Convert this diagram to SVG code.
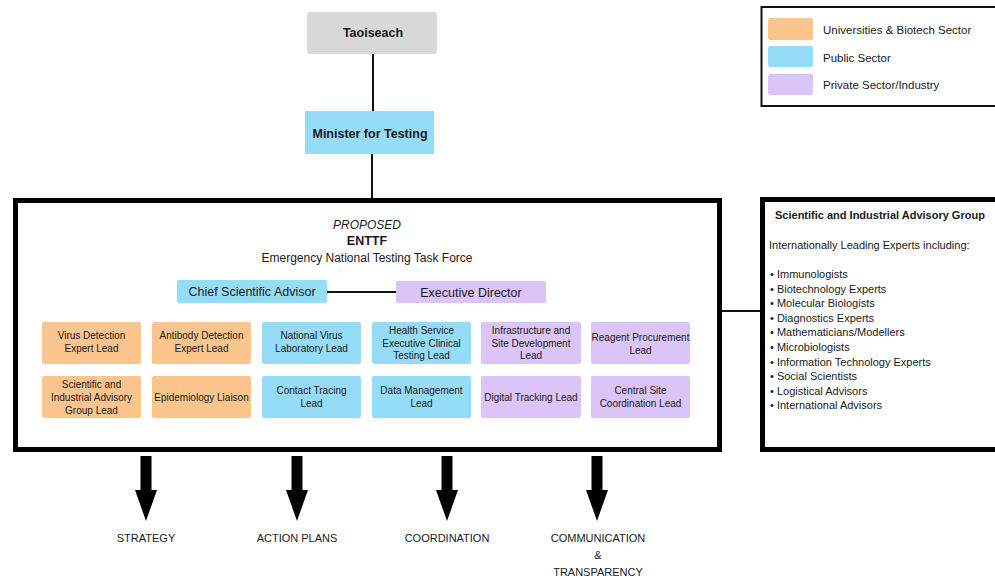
<svg xmlns="http://www.w3.org/2000/svg" width="995" height="578" viewBox="0 0 995 578">
<style>
text{font-family:"Liberation Sans",Arial,sans-serif;fill:#1a1a1a}
.c{text-anchor:middle}
.b{font-weight:bold}
.g{font-size:10px}
.line{stroke:#111;stroke-width:2;fill:none}
.org{fill:#fdc58e}
.pub{fill:#95dcf8}
.pri{fill:#dbc4f7}
.arrow{fill:#000}
.lab{font-size:11px}
</style>
<rect width="995" height="578" fill="#fff"/>
<g id="connectors">
<line class="line" x1="373" y1="54" x2="373" y2="111"/>
<line class="line" x1="372" y1="154" x2="372" y2="199"/>
<line class="line" x1="327" y1="292" x2="396" y2="292"/>
<line class="line" x1="720" y1="311" x2="761" y2="311"/>
<polygon class="arrow" points="140.5,456 151.5,456 151.5,490 157,490 146,521 135,490 140.5,490"/>
<polygon class="arrow" points="291.5,456 302.5,456 302.5,490 308,490 297,521 286,490 291.5,490"/>
<polygon class="arrow" points="441.5,456 452.5,456 452.5,490 458,490 447,521 436,490 441.5,490"/>
<polygon class="arrow" points="591.5,456 602.5,456 602.5,490 608,490 597,521 586,490 591.5,490"/>
</g>
<g id="taoiseach">
<rect x="307" y="12" width="130" height="42" rx="2" fill="#d8d8d8"/>
<text class="c b" x="373" y="36.5" font-size="12.5">Taoiseach</text>
</g>
<g id="minister">
<rect x="305" y="111" width="129" height="43" fill="#95dcf8"/>
<text class="c b" x="370" y="137.5" font-size="12.5">Minister for Testing</text>
</g>
<g id="legend">
<rect x="761.5" y="7" width="240" height="99" fill="#fff" stroke="#111" stroke-width="2"/>
<rect class="org" x="768" y="18" width="45" height="22" rx="2"/>
<rect class="pub" x="768" y="46" width="45" height="21" rx="2"/>
<rect class="pri" x="768" y="74" width="45" height="21" rx="2"/>
<text x="823" y="34" font-size="11.5">Universities &amp; Biotech Sector</text>
<text x="823" y="62" font-size="11.5">Public Sector</text>
<text x="823" y="89" font-size="11.5">Private Sector/Industry</text>
</g>
<g id="enttf">
<rect x="15.5" y="200.5" width="704" height="249" fill="none" stroke="#000" stroke-width="5"/>
<text class="c" x="367" y="229" font-size="12" font-style="italic">PROPOSED</text>
<text class="c b" x="367" y="244.5" font-size="12.5">ENTTF</text>
<text class="c" x="367" y="262" font-size="12">Emergency National Testing Task Force</text>
</g>
<g id="chief-scientific-advisor">
<rect class="pub" x="177" y="280" width="150" height="23" rx="2"/>
<text class="c" x="252" y="296" font-size="12.5">Chief Scientific Advisor</text>
</g>
<g id="executive-director">
<rect class="pri" x="396" y="281" width="150" height="22" rx="2"/>
<text class="c" x="471" y="296.5" font-size="12.5">Executive Director</text>
</g>
<g id="virus-detection">
<rect class="org" x="42" y="322" width="99" height="42" rx="2"/>
<text class="c g" x="91.5" y="339">Virus Detection</text>
<text class="c g" x="91.5" y="352">Expert Lead</text>
</g>
<g id="antibody-detection">
<rect class="org" x="152" y="322" width="99" height="42" rx="2"/>
<text class="c g" x="201.5" y="339">Antibody Detection</text>
<text class="c g" x="201.5" y="352">Expert Lead</text>
</g>
<g id="national-virus-lab">
<rect class="pub" x="262" y="322" width="99" height="42" rx="2"/>
<text class="c g" x="311.5" y="339">National Virus</text>
<text class="c g" x="311.5" y="352">Laboratory Lead</text>
</g>
<g id="hse-clinical-testing">
<rect class="pub" x="372" y="322" width="99" height="42" rx="2"/>
<text class="c g" x="421.5" y="333.5">Health Service</text>
<text class="c g" x="421.5" y="346.5">Executive Clinical</text>
<text class="c g" x="421.5" y="359">Testing Lead</text>
</g>
<g id="infrastructure">
<rect class="pri" x="481" y="322" width="100" height="42" rx="2"/>
<text class="c g" x="531" y="333.5">Infrastructure and</text>
<text class="c g" x="531" y="346.5">Site Development</text>
<text class="c g" x="531" y="359">Lead</text>
</g>
<g id="reagent-procurement">
<rect class="pri" x="591" y="322" width="99" height="42" rx="2"/>
<text class="c g" x="640.5" y="340.5">Reagent Procurement</text>
<text class="c g" x="640.5" y="353.5">Lead</text>
</g>
<g id="siag-lead">
<rect class="org" x="42" y="376" width="99" height="42" rx="2"/>
<text class="c g" x="91.5" y="387.5">Scientific and</text>
<text class="c g" x="91.5" y="400.5">Industrial Advisory</text>
<text class="c g" x="91.5" y="413.5">Group Lead</text>
</g>
<g id="epidemiology">
<rect class="org" x="152" y="376" width="99" height="42" rx="2"/>
<text class="c g" x="201.5" y="400.5">Epidemiology Liaison</text>
</g>
<g id="contact-tracing">
<rect class="pub" x="262" y="376" width="99" height="42" rx="2"/>
<text class="c g" x="311.5" y="393.5">Contact Tracing</text>
<text class="c g" x="311.5" y="406.5">Lead</text>
</g>
<g id="data-management">
<rect class="pub" x="372" y="376" width="99" height="42" rx="2"/>
<text class="c g" x="421.5" y="393.5">Data Management</text>
<text class="c g" x="421.5" y="406.5">Lead</text>
</g>
<g id="digital-tracking">
<rect class="pri" x="481" y="376" width="100" height="42" rx="2"/>
<text class="c g" x="531" y="400.5">Digital Tracking Lead</text>
</g>
<g id="central-site">
<rect class="pri" x="591" y="376" width="99" height="42" rx="2"/>
<text class="c g" x="640.5" y="393.5">Central Site</text>
<text class="c g" x="640.5" y="406.5">Coordination Lead</text>
</g>
<g id="advisory-group">
<rect x="762.5" y="199.5" width="250" height="250" fill="#fff" stroke="#000" stroke-width="5"/>
<text class="b" x="775" y="219" font-size="11">Scientific and Industrial Advisory Group</text>
<text x="769" y="249" font-size="11">Internationally Leading Experts including:</text>
<text x="770" y="278" font-size="11">• Immunologists</text>
<text x="770" y="292.6" font-size="11">• Biotechnology Experts</text>
<text x="770" y="307.2" font-size="11">• Molecular Biologists</text>
<text x="770" y="321.8" font-size="11">• Diagnostics Experts</text>
<text x="770" y="336.4" font-size="11">• Mathematicians/Modellers</text>
<text x="770" y="351" font-size="11">• Microbiologists</text>
<text x="770" y="365.6" font-size="11">• Information Technology Experts</text>
<text x="770" y="380.2" font-size="11">• Social Scientists</text>
<text x="770" y="394.8" font-size="11">• Logistical Advisors</text>
<text x="770" y="409.4" font-size="11">• International Advisors</text>
</g>
<g id="outcomes">
<text class="c lab" x="146" y="542">STRATEGY</text>
<text class="c lab" x="297" y="542">ACTION PLANS</text>
<text class="c lab" x="447" y="542">COORDINATION</text>
<text class="c lab" x="598" y="542">COMMUNICATION</text>
<text class="c lab" x="598" y="559">&amp;</text>
<text class="c lab" x="598" y="575.5">TRANSPARENCY</text>
</g>
</svg>
